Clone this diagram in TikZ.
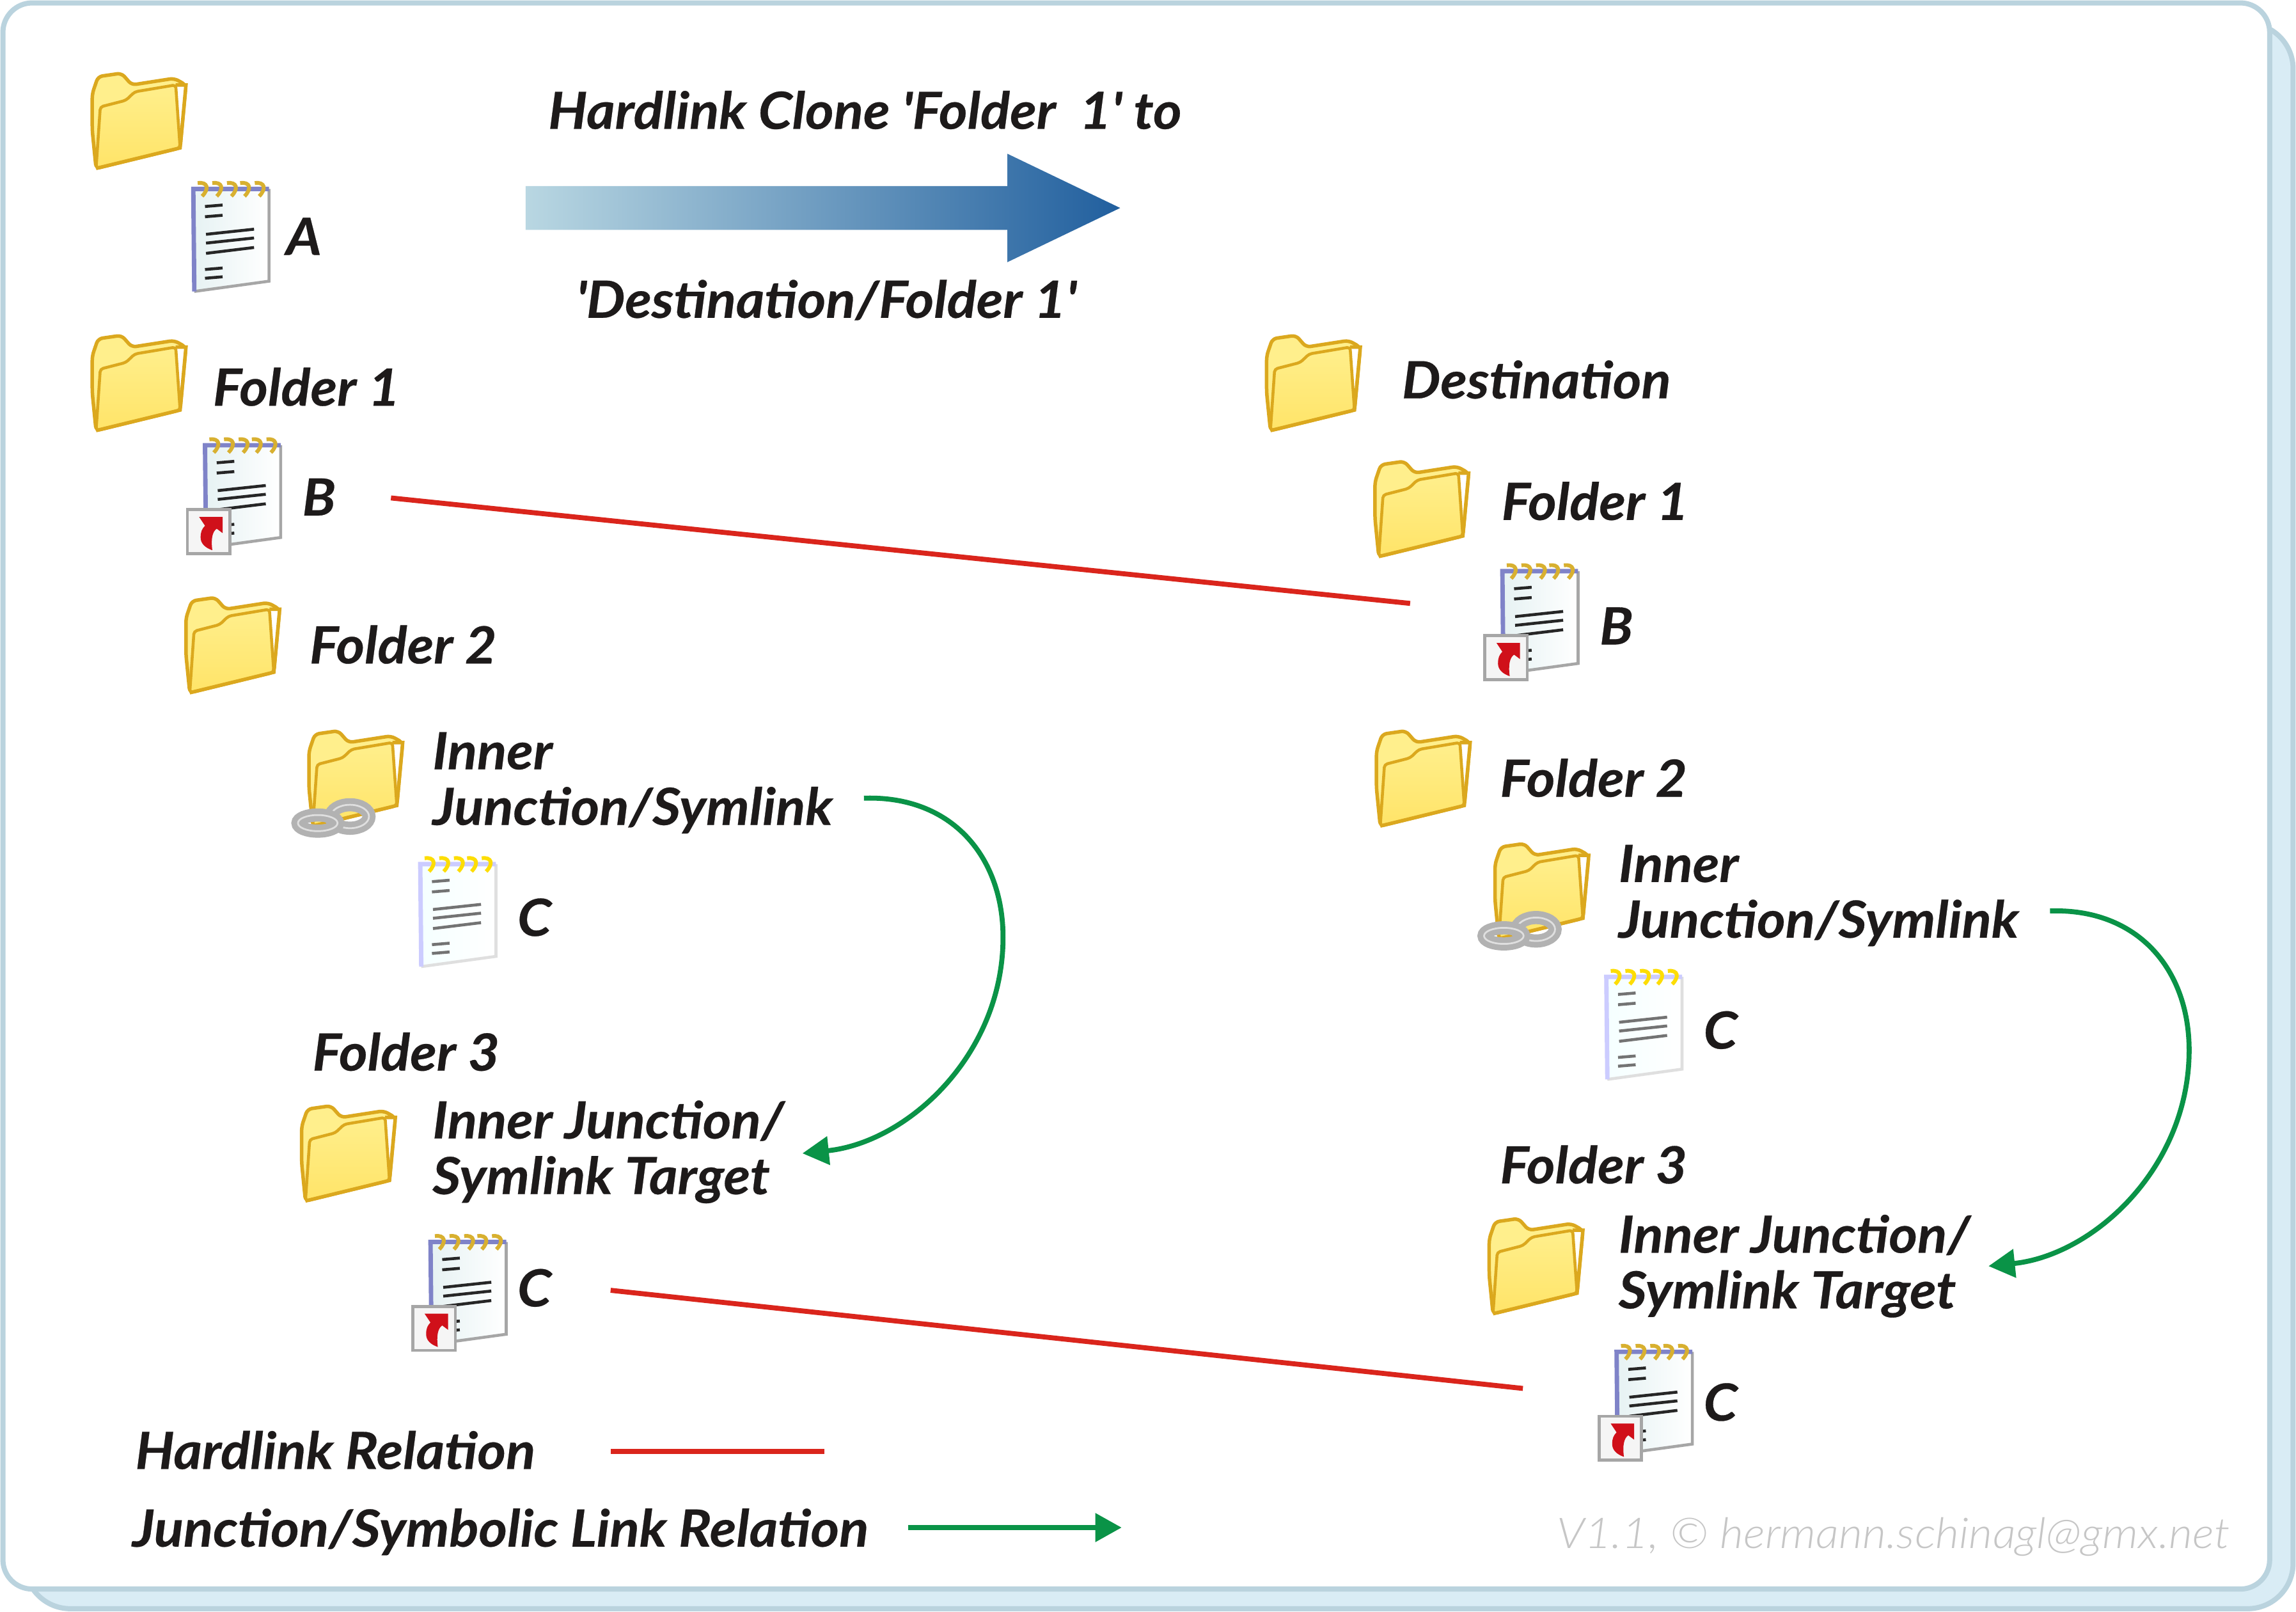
\documentclass[tikz,border=0pt]{standalone}
\usepackage{fontspec}
\setmainfont[FakeStretch=1.065,BoldItalicFeatures={FakeBold=0.35}]{Lato}
\newfontfamily\markfont[FakeStretch=1.08]{Lato Light}
\usetikzlibrary{arrows.meta}
\definecolor{frameline}{HTML}{BAD3DE}
\definecolor{framefill}{HTML}{D9ECF5}
\definecolor{inktext}{HTML}{1D1A1A}
\definecolor{hardred}{HTML}{DA251C}
\definecolor{linkgreen}{HTML}{0A9347}
\definecolor{foldline}{HTML}{DBA81E}
\definecolor{foldtop}{HTML}{FFEF8C}
\definecolor{foldmid}{HTML}{FFFF96}
\definecolor{foldlow}{HTML}{FFE468}
\definecolor{turnred}{HTML}{D0101A}
\definecolor{cloneblue}{HTML}{215F9E}
\definecolor{clonelight}{HTML}{B9D7E2}
% note colours
\definecolor{notering}{HTML}{D8B030}
\definecolor{noteblue}{HTML}{7F83C8}
\definecolor{notelow}{HTML}{E6F2F3}
\colorlet{noteink}{black!85}
\colorlet{noteedge}{gray!70}
\newcommand{\notebody}{
	\fill[left color=notelow,right color=white]
		(0,6) -- (51.7,6) -- (51.7,69) -- (0.7,76) -- cycle;
	\draw[noteedge,line width=1pt] (51.7,6) -- (51.7,69) -- (0.7,76);
	\draw[noteblue,line width=1.5pt] (0.7,76) -- (0,6) -- (51.7,6);
	\foreach \ringx in {6,16,26,35,45}
		\draw[notering,line width=1.3pt] (\ringx,11) .. controls (\ringx+5,6) and (\ringx+4,1) .. (\ringx-3,2);
	\foreach \linea/\lineb in {18/17,25/24,61/60,67/66}
		\draw[noteink,line width=1pt] (8,\linea) -- (20,\lineb);
	\foreach \linea/\lineb in {37/33.5,43/39.5,50/46}
		\draw[noteink,line width=1pt] (8.7,\linea) -- (41.5,\lineb);
}
\tikzset{
	lab/.style={anchor=base west,inner sep=0pt,text=inktext,align=left,
		font=\fontsize{17.5}{19}\selectfont\bfseries\itshape},
	lablines/.style={lab,anchor=west},
	hardlink/.style={hardred,line width=1.7pt},
	symlink/.style={linkgreen,line width=1.7pt,-{Triangle[length=9pt,width=9.5pt]}},
	% icons, origin at the top left corner
	folderpic/.pic={
		\draw[foldline,line width=1.2pt,rounded corners=1.5pt,fill=foldtop]
			(1,14) -- (5,2.3) -- (21,0) -- (28,8) -- (57,3.5) -- (65,8) -- (61,51) -- (3.6,65) -- (1,39) -- cycle;
		\fill[white] (58,8) -- (65,8) -- (61,51) -- (57,52) -- cycle;
		\draw[foldline,line width=1pt,rounded corners=1pt,top color=foldtop,middle color=foldmid,bottom color=foldlow]
			(6.5,23) -- (24,18.5) -- (30,12.7) -- (58,8) -- (61,51) -- (3.6,65) -- cycle;
		\draw[foldline,line width=1.2pt] (58,8) -- (65,8) -- (61,51) -- (3.6,65);
	},
	notepic/.pic={\notebody},
	ghostpic/.pic={
		\colorlet{notering}{yellow!80!orange}
		\colorlet{noteblue}{blue!20}
		\colorlet{notelow}{cyan!4!white}
		\colorlet{noteink}{black!55}
		\colorlet{noteedge}{gray!25}
		\notebody
	},
	shortcutpic/.pic={
		\draw[gray!70,line width=1pt,fill=gray!8] (-12,50) rectangle (17,80);
		\fill[turnred] (-4,55) -- (12,55) -- (12,66) -- (8,63) .. controls (5,65) and (4,70) .. (5,77.7)
			.. controls (0,76) and (-3,73) .. (-3,69) .. controls (-3,65) and (-2,63) .. (0,61) -- cycle;
	},
	chainpic/.pic={
		\draw[gray!60,line width=4.5pt] (39,12.5) ellipse (13 and 8);
		\draw[gray!25,line width=.6pt] (39,12.5) ellipse (13 and 8);
		\draw[gray!60,line width=4.5pt] (17,17) ellipse (13.5 and 5.5);
		\draw[gray!25,line width=.6pt] (17,17) ellipse (13.5 and 5.5);
	}
}
\begin{document}
\begin{tikzpicture}[x=0.5pt,y=-0.5pt]
	\useasboundingbox (0,0) rectangle (1568,1100.24);
	% frame
	\draw[frameline,line width=1.75pt,fill=framefill,rounded corners=15.5pt] (17,16) rectangle (1566,1098.4);
	\draw[frameline,line width=1.75pt,fill=white,rounded corners=10pt] (2,2) rectangle (1550,1085);
	% folders
	\pic at (62,50) {folderpic};
	\pic at (62,229) {folderpic};
	\pic at (126,408) {folderpic};
	\pic at (210,499) {folderpic};
	\pic at (200,545) {chainpic};
	\pic at (205,755) {folderpic};
	\pic at (864,229) {folderpic};
	\pic at (938,315) {folderpic};
	\pic at (939,499) {folderpic};
	\pic at (1020,576) {folderpic};
	\pic at (1010,622) {chainpic};
	\pic at (1016,832) {folderpic};
	% notes
	\pic at (132,123) {notepic};
	\pic at (140,298) {notepic};
	\pic at (140,298) {shortcutpic};
	\pic at (287,584) {ghostpic};
	\pic at (294,842) {notepic};
	\pic at (294,842) {shortcutpic};
	\pic at (1026,384) {notepic};
	\pic at (1026,384) {shortcutpic};
	\pic at (1097,661) {ghostpic};
	\pic at (1104,917) {notepic};
	\pic at (1104,917) {shortcutpic};
	% clone arrow
	\path[left color=clonelight,right color=cloneblue]
		(359,127) -- (688,127) -- (688,105) -- (765,142) -- (688,179) -- (688,157) -- (359,157) -- cycle;
	% labels
	\node[lab] (title) at (374,88) {Hardlink Clone \textquotesingle Folder~~1\textquotesingle{} to};
	\node[lab] (titleb) at (393,217) {\textquotesingle Destination/Folder 1\textquotesingle};
	\node[lab] (A) at (195,174) {A};
	\node[lab] (Fone) at (145,277) {Folder 1};
	\node[lab] (B) at (206,352) {B};
	\node[lab] (Ftwo) at (211,453) {Folder 2};
	\node[lablines] (Inner) at (295,534.5) {Inner\\Junction/Symlink};
	\node[lab] (C) at (353,639) {C};
	\node[lab] (Fthree) at (213,731) {Folder 3};
	\node[lablines] (Target) at (295,786.5) {Inner Junction/\\Symlink Target};
	\node[lab] (C') at (353,892) {C};
	\node[lab] (Dest) at (957,272) {Destination};
	\node[lab] (Fone') at (1025,355) {Folder 1};
	\node[lab] (B') at (1092,440) {B};
	\node[lab] (Ftwo') at (1024,544) {Folder 2};
	\node[lablines] (Inner') at (1105,611.5) {Inner\\Junction/Symlink};
	\node[lab] (D) at (1163,716) {C};
	\node[lab] (Fthree') at (1024,808) {Folder 3};
	\node[lablines] (Target') at (1105,864.5) {Inner Junction/\\Symlink Target};
	\node[lab] (D') at (1163,970) {C};
	\node[lab] (Hard) at (92,1003) {Hardlink Relation};
	\node[lab] (Sym) at (90,1056) {Junction/Symbolic Link Relation};
	\node[anchor=base east,inner sep=0pt,text=gray!45,font=\fontsize{14.5}{16}\selectfont\markfont\itshape] (Mark) at (1523,1057) {V1.1, © hermann.schinagl@gmx.net};
	% connector ends
	\coordinate (hb) at (267,340);
	\coordinate (hb') at (963,412);
	\coordinate (hc) at (417,881);
	\coordinate (hc') at (1040,948);
	\coordinate (ha) at (417,991);
	\coordinate (ha') at (563,991);
	\coordinate (sa) at (620,1043);
	\coordinate (sa') at (766,1043);
	\coordinate (s) at (590,545);
	\coordinate (s') at (548,787.5);
	\coordinate (t) at (1400,622);
	\coordinate (t') at (1358,864.5);
	% hardlinks
	\draw[hardlink] (hb) -- (hb');
	\draw[hardlink] (hc) -- (hc');
	\draw[hardlink] (ha) -- (ha');
	% symlinks
	\draw[symlink] (sa) -- (sa');
	\draw[symlink] (s) .. controls (650,543) and (685,585) .. (685,640) .. controls (685,720) and (620,780) .. (s');
	\draw[symlink] (t) .. controls (1460,620) and (1495,662) .. (1495,717) .. controls (1495,797) and (1430,857) .. (t');
\end{tikzpicture}
\end{document}
